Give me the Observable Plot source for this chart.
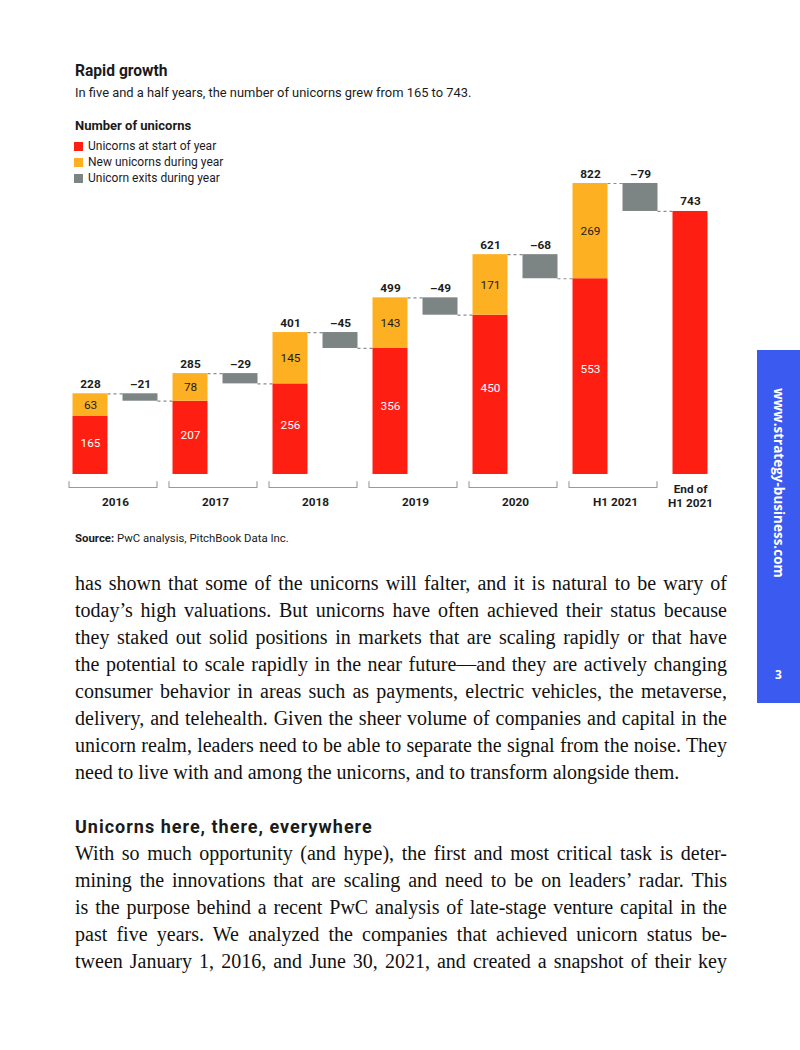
<!DOCTYPE html>
<html><head><meta charset="utf-8">
<script src="https://cdn.jsdelivr.net/npm/d3@7"></script>
<script src="https://cdn.jsdelivr.net/npm/@observablehq/plot@0.6"></script>
<style>
body{margin:0;background:#fff;width:800px;height:1050px;position:relative;overflow:hidden;font-family:Roboto,sans-serif;color:#1b1b1b}
.abs{position:absolute}
#title{left:75px;top:61px;font-size:15.6px;font-weight:700;line-height:20px;letter-spacing:0}
#subtitle{left:75px;top:84px;font-size:12.9px;line-height:18px;letter-spacing:0}
#ytitle{left:75px;top:117px;font-size:13px;font-weight:700;line-height:18px}
#legend{left:74px;top:138px;font-size:12px;line-height:16px}
.item{display:flex;align-items:center;height:16px}
.sw{width:9px;height:9px;margin-right:5px}
#chart{left:0;top:150px}
#source{left:75px;top:530px;font-size:11.4px;line-height:16px}
.body{left:75px;width:652px;font-family:"Liberation Serif",serif;font-size:20px;line-height:27px;color:#111}
.body div{text-align:justify;text-align-last:justify;white-space:nowrap}
.body div.last{text-align:left;text-align-last:left}
#heading{left:75px;top:816px;font-size:18px;font-weight:700;line-height:22px;letter-spacing:1px}
#side{left:757px;top:350px;width:43px;height:353px;background:#3a5af0;color:#fff}
#sideText{position:absolute;left:0;top:38px;width:43px;writing-mode:vertical-rl;line-height:43px;font-family:"Open Sans",sans-serif;font-weight:700;font-size:13.5px}
#pageNum{position:absolute;left:0;width:43px;top:316px;text-align:center;font-family:"Open Sans",sans-serif;font-weight:700;font-size:12px;line-height:18px}
</style></head>
<body>
<div id="title" class="abs">Rapid growth</div>
<div id="subtitle" class="abs">In five and a half years, the number of unicorns grew from 165 to 743.</div>
<div id="ytitle" class="abs">Number of unicorns</div>
<div id="legend" class="abs"></div>
<div id="chart" class="abs"></div>
<div id="source" class="abs"><b>Source:</b> PwC analysis, PitchBook Data Inc.</div>
<div class="abs body" style="top:570px">
<div>has shown that some of the unicorns will falter, and it is natural to be wary of</div>
<div>today’s high valuations. But unicorns have often achieved their status because</div>
<div>they staked out solid positions in markets that are scaling rapidly or that have</div>
<div>the potential to scale rapidly in the near future—and they are actively changing</div>
<div>consumer behavior in areas such as payments, electric vehicles, the metaverse,</div>
<div>delivery, and telehealth. Given the sheer volume of companies and capital in the</div>
<div>unicorn realm, leaders need to be able to separate the signal from the noise. They</div>
<div class="last">need to live with and among the unicorns, and to transform alongside them.</div>
</div>
<div id="heading" class="abs">Unicorns here, there, everywhere</div>
<div class="abs body" style="top:840px">
<div>With so much opportunity (and hype), the first and most critical task is deter-</div>
<div>mining the innovations that are scaling and need to be on leaders’ radar. This</div>
<div>is the purpose behind a recent PwC analysis of late-stage venture capital in the</div>
<div>past five years. We analyzed the companies that achieved unicorn status be-</div>
<div>tween January 1, 2016, and June 30, 2021, and created a snapshot of their key</div>
</div>
<div id="side" class="abs"><div id="sideText">www.strategy-business.com</div><div id="pageNum">3</div></div>
<script>
const years = ["2016", "2017", "2018", "2019", "2020", "H1 2021"];
const startCounts = [165, 207, 256, 356, 450, 553];
const newCounts = [63, 78, 145, 143, 171, 269];
const exitCounts = [21, 29, 45, 49, 68, 79];
const endLabel = "End of\nH1 2021";
const endCount = 743;
const seriesNames = ["Unicorns at start of year", "New unicorns during year", "Unicorn exits during year"];
const seriesColors = ["#fe1f12", "#fdb022", "#7d8484"];

// legend
const legend = document.getElementById("legend");
seriesNames.forEach((n, k) => {
  const it = document.createElement("div"); it.className = "item";
  const sw = document.createElement("span"); sw.className = "sw"; sw.style.background = seriesColors[k];
  const t = document.createElement("span"); t.textContent = n;
  it.append(sw, t); legend.append(it);
});

const rows = years.map((yr, k) => ({
  year: yr, i: 2 * k, j: 2 * k + 1,
  start: startCounts[k], add: newCounts[k], exit: exitCounts[k],
  total: startCounts[k] + newCounts[k],
  after: startCounts[k] + newCounts[k] - exitCounts[k]
}));
const endRow = [{i: 2 * years.length, v: endCount, label: endLabel}];

const W = 800, H = 370, mt = 33, mb = 46, ml = 65, mr = 85;
const yMax = d3.max(rows, d => d.total);
const u = yMax / (H - mt - mb); // data units per pixel
const hw = 0.35;
const brackets = rows.flatMap(d => {
  const a = d.i - hw - 0.08, b = d.j + hw - 0.02;
  return [
    {z: d.year, x: a, y: -7 * u}, {z: d.year, x: a, y: -13 * u},
    {z: d.year, x: b, y: -13 * u}, {z: d.year, x: b, y: -7 * u}
  ];
});
const ink = "#1c1c1c";

const chart = Plot.plot({
  width: W, height: H, marginTop: mt, marginBottom: mb, marginLeft: ml, marginRight: mr,
  x: {domain: [-0.5, 2 * years.length + 0.5], axis: null},
  y: {domain: [0, yMax], axis: null},
  style: {fontFamily: "Roboto, sans-serif", background: "transparent", overflow: "visible"},
  marks: [
    Plot.ruleY(rows, {y: "total", x1: d => d.i + hw, x2: d => d.j - hw, stroke: "#8c8c8c", strokeWidth: 1.2, strokeDasharray: "3,3"}),
    Plot.ruleY(rows, {y: "after", x1: d => d.j + hw, x2: d => d.j + 1 - hw, stroke: "#8c8c8c", strokeWidth: 1.2, strokeDasharray: "3,3"}),
    Plot.rect(rows, {x1: d => d.i - hw, x2: d => d.i + hw, y1: 0, y2: "start", fill: seriesColors[0]}),
    Plot.rect(rows, {x1: d => d.i - hw, x2: d => d.i + hw, y1: "start", y2: "total", fill: seriesColors[1]}),
    Plot.rect(rows, {x1: d => d.j - hw, x2: d => d.j + hw, y1: "after", y2: "total", fill: seriesColors[2]}),
    Plot.rect(endRow, {x1: d => d.i - hw, x2: d => d.i + hw, y1: 0, y2: "v", fill: seriesColors[0]}),
    Plot.text(rows, {x: "i", y: "total", text: d => String(d.total), dy: -6, lineAnchor: "bottom", fontWeight: 700, fontSize: 11.8, fill: ink}),
    Plot.text(rows, {x: "j", y: "total", text: d => "–" + d.exit, dy: -6, lineAnchor: "bottom", fontWeight: 700, fontSize: 11.8, fill: ink}),
    Plot.text(endRow, {x: "i", y: "v", text: d => String(d.v), dy: -6, lineAnchor: "bottom", fontWeight: 700, fontSize: 11.8, fill: ink}),
    Plot.text(rows, {x: "i", y: d => d.start * 0.54, text: d => String(d.start), fill: "white", fontSize: 11.8}),
    Plot.text(rows, {x: "i", y: d => (d.start + d.total) / 2, text: d => String(d.add), fill: ink, fontSize: 11.8}),
    Plot.line(brackets, {x: "x", y: "y", z: "z", stroke: "#9a9a9a", strokeWidth: 1.1}),
    Plot.text(rows, {x: d => d.i + 0.5, y: 0, text: "year", dy: 28, fontWeight: 700, fontSize: 11.8, fill: ink}),
    Plot.text(endRow, {x: "i", y: 0, text: "label", dy: 21, fontWeight: 700, fontSize: 11.8, lineHeight: 1.2, fill: ink})
  ]
});
document.getElementById("chart").append(chart);
</script>
</body></html>
